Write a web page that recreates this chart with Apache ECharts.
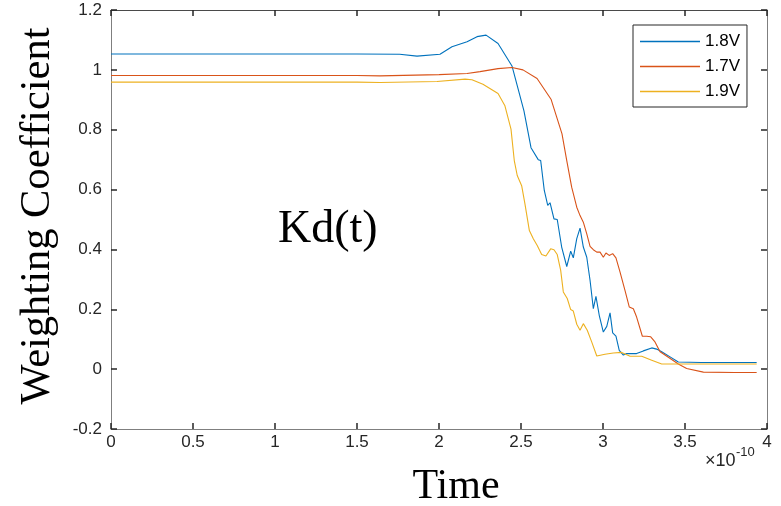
<!DOCTYPE html>
<html>
<head>
<meta charset="utf-8">
<script src="https://cdn.jsdelivr.net/npm/echarts@6/dist/echarts.min.js"></script>
<style>
  html, body { margin: 0; padding: 0; background: #ffffff; }
  #chart { width: 781px; height: 506px; }
</style>
</head>
<body>
<div id="chart"></div>
<script>
// Time samples are in units of 1e-10 s (the axis carries the ×10^-10 multiplier).
const seriesNames = ['1.8V', '1.7V', '1.9V'];

const time18 = [0, 0.5, 1.0, 1.5, 1.76, 1.866, 2.006, 2.079, 2.171, 2.232, 2.287, 2.36, 2.445, 2.518, 2.561, 2.605, 2.62, 2.642, 2.663, 2.677, 2.701, 2.721, 2.748, 2.779, 2.803, 2.819, 2.84, 2.86, 2.88, 2.901, 2.921, 2.941, 2.957, 2.977, 3.002, 3.023, 3.043, 3.059, 3.079, 3.099, 3.124, 3.145, 3.205, 3.246, 3.297, 3.327, 3.358, 3.409, 3.459, 3.6, 3.8, 3.937];
const coef18 = [1.053, 1.053, 1.053, 1.053, 1.052, 1.046, 1.052, 1.077, 1.094, 1.111, 1.116, 1.088, 1.013, 0.863, 0.74, 0.70, 0.697, 0.597, 0.547, 0.556, 0.502, 0.5, 0.408, 0.343, 0.394, 0.372, 0.436, 0.471, 0.408, 0.374, 0.297, 0.202, 0.243, 0.18, 0.124, 0.143, 0.188, 0.121, 0.11, 0.063, 0.047, 0.052, 0.052, 0.061, 0.071, 0.067, 0.058, 0.041, 0.024, 0.022, 0.022, 0.022];

const time17 = [0, 0.5, 1.0, 1.5, 1.64, 2.0, 2.171, 2.25, 2.36, 2.445, 2.512, 2.598, 2.683, 2.75, 2.779, 2.809, 2.84, 2.86, 2.88, 2.901, 2.921, 2.941, 2.962, 2.982, 3.002, 3.018, 3.038, 3.059, 3.079, 3.104, 3.134, 3.16, 3.185, 3.205, 3.24, 3.266, 3.291, 3.317, 3.348, 3.378, 3.419, 3.459, 3.51, 3.612, 3.8, 3.937];
const coef17 = [0.981, 0.981, 0.981, 0.981, 0.98, 0.984, 0.988, 0.994, 1.004, 1.008, 1.0, 0.971, 0.902, 0.786, 0.697, 0.608, 0.541, 0.513, 0.491, 0.452, 0.41, 0.399, 0.391, 0.391, 0.374, 0.388, 0.38, 0.386, 0.372, 0.324, 0.263, 0.208, 0.202, 0.174, 0.11, 0.11, 0.108, 0.091, 0.058, 0.047, 0.032, 0.017, 0.002, -0.01, -0.011, -0.011];

const time19 = [0, 0.5, 1.0, 1.5, 1.64, 1.988, 2.159, 2.201, 2.268, 2.36, 2.402, 2.439, 2.459, 2.477, 2.504, 2.524, 2.551, 2.575, 2.599, 2.626, 2.652, 2.681, 2.701, 2.721, 2.742, 2.758, 2.782, 2.803, 2.819, 2.84, 2.86, 2.88, 2.904, 2.931, 2.962, 3.012, 3.063, 3.114, 3.165, 3.236, 3.297, 3.358, 3.449, 3.7, 3.937];
const coef19 = [0.959, 0.959, 0.959, 0.959, 0.958, 0.961, 0.969, 0.967, 0.952, 0.921, 0.88, 0.802, 0.697, 0.647, 0.613, 0.552, 0.463, 0.436, 0.413, 0.383, 0.378, 0.402, 0.399, 0.383, 0.33, 0.258, 0.236, 0.199, 0.194, 0.15, 0.13, 0.152, 0.13, 0.091, 0.044, 0.05, 0.054, 0.056, 0.043, 0.043, 0.03, 0.017, 0.017, 0.017, 0.017];

const zip = (xs, ys) => xs.map((x, i) => [x, ys[i]]);
const fmt = v => String(parseFloat(v.toFixed(1)));

const tickFont = 'Liberation Sans, Arial, Helvetica, sans-serif';
const serifFont = 'Liberation Serif, Times New Roman, serif';

const frameLine = { show: true, onZero: false, lineStyle: { color: '#7f7f7f', width: 1 } };
const tickMark = { show: true, inside: true, length: 6, lineStyle: { color: '#262626', width: 1.5 } };

const chart = echarts.init(document.getElementById('chart'), null, { renderer: 'canvas' });

chart.setOption({
  animation: false,
  backgroundColor: '#ffffff',
  grid: { left: 111, top: 10, width: 656, height: 419, containLabel: false },
  xAxis: [
    {
      type: 'value', position: 'bottom', min: 0, max: 4, interval: 0.5,
      axisLine: frameLine, axisTick: tickMark, splitLine: { show: false },
      axisLabel: { margin: 5, color: '#262626', fontSize: 17, fontFamily: tickFont, formatter: fmt }
    },
    {
      type: 'value', position: 'top', min: 0, max: 4, interval: 0.5,
      axisLine: { show: true, onZero: false, lineStyle: { color: '#4a4a4a', width: 1 } },
      axisTick: tickMark, splitLine: { show: false }, axisLabel: { show: false }
    }
  ],
  yAxis: [
    {
      type: 'value', position: 'left', min: -0.2, max: 1.2, interval: 0.2,
      axisLine: frameLine, axisTick: tickMark, splitLine: { show: false },
      axisLabel: { margin: 9, color: '#262626', fontSize: 17, fontFamily: tickFont, formatter: fmt }
    },
    {
      type: 'value', position: 'right', min: -0.2, max: 1.2, interval: 0.2,
      axisLine: frameLine, axisTick: tickMark, splitLine: { show: false }, axisLabel: { show: false }
    }
  ],
  legend: {
    data: seriesNames,
    orient: 'vertical',
    left: 633, top: 25,
    padding: [8, 7, 7, 7],
    icon: 'rect',
    itemWidth: 60, itemHeight: 1.3, itemGap: 8,
    backgroundColor: '#ffffff',
    borderColor: '#262626', borderWidth: 1, borderRadius: 0,
    textStyle: { color: '#000000', fontSize: 17, fontFamily: tickFont, lineHeight: 17 }
  },
  series: [
    { name: seriesNames[0], type: 'line', data: zip(time18, coef18), symbol: 'none',
      color: '#0072BD', lineStyle: { width: 1.1, color: '#0072BD' } },
    { name: seriesNames[1], type: 'line', data: zip(time17, coef17), symbol: 'none',
      color: '#D95319', lineStyle: { width: 1.1, color: '#D95319' } },
    { name: seriesNames[2], type: 'line', data: zip(time19, coef19), symbol: 'none',
      color: '#EDB120', lineStyle: { width: 1.1, color: '#EDB120' } }
  ],
  graphic: [
    { type: 'text', x: 38, y: 216, rotation: Math.PI / 2,
      style: { text: 'Weighting Coefficient', font: '42.5px ' + serifFont, fill: '#000',
               align: 'center', verticalAlign: 'middle' } },
    { type: 'text', x: 278, y: 230,
      style: { text: 'Kd(t)', font: '46px ' + serifFont, fill: '#000',
               align: 'left', verticalAlign: 'middle' } },
    { type: 'text', x: 456, y: 487,
      style: { text: 'Time', font: '42px ' + serifFont, fill: '#000',
               align: 'center', verticalAlign: 'middle' } },
    { type: 'text', x: 705, y: 461,
      style: { text: '×10', font: '18px ' + tickFont, fill: '#262626',
               align: 'left', verticalAlign: 'middle' } },
    { type: 'text', x: 736, y: 452,
      style: { text: '-10', font: '13px ' + tickFont, fill: '#262626',
               align: 'left', verticalAlign: 'middle' } }
  ]
});
</script>
</body>
</html>
